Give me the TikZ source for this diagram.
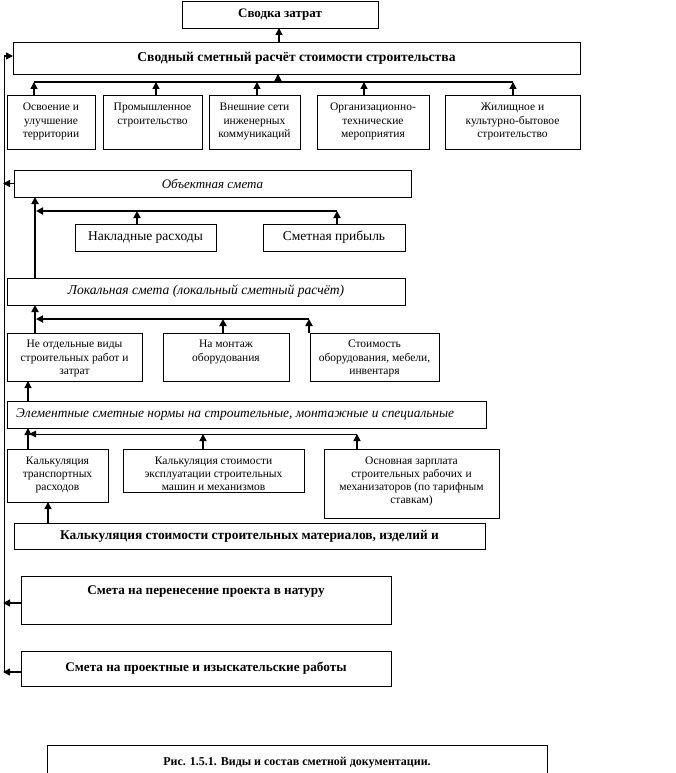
\documentclass[tikz,border=0pt]{standalone}
\usepackage{fontspec}
\setmainfont{Liberation Serif}
\usetikzlibrary{arrows.meta}
\begin{document}
\begin{tikzpicture}[x=1pt,y=-1pt,
  box/.style={draw, line width=0.8pt, inner sep=0pt, outer sep=0pt, anchor=north west, align=center},
  small/.style={align=center, inner sep=0pt, anchor=north, font=\fontsize{11.5}{13.5}\selectfont},
  wire/.style={line width=1.3pt},
  conn/.style={line width=1.4pt, -{Triangle[length=7pt,width=7pt]}},
  connbold/.style={line width=2pt, -{Triangle[length=7pt,width=7pt]}},
  connthin/.style={line width=1pt, -{Triangle[length=7pt,width=6.5pt]}}]
\useasboundingbox (0,0) rectangle (676,773);
\clip (0,0) rectangle (676,773);

% top
\node[box, minimum width=196pt, minimum height=27pt, font=\bfseries\fontsize{13}{15}\selectfont] (sv) at (182,1) {Сводка затрат};
\node[box, minimum width=567pt, minimum height=32pt, font=\bfseries\fontsize{13.6}{16}\selectfont] (ss) at (13,42) {Сводный сметный расчёт стоимости строительства};

% row of five
\node[box, minimum width=88pt, minimum height=54pt] (b1) at (7,95) {};
\node[box, minimum width=99pt, minimum height=54pt] (b2) at (103,95) {};
\node[box, minimum width=91pt, minimum height=54pt] (b3) at (209,95) {};
\node[box, minimum width=112pt, minimum height=54pt] (b4) at (317,95) {};
\node[box, minimum width=135pt, minimum height=54pt] (b5) at (445,95) {};
\node[small] (b1t) at ([yshift=-8pt]b1.north) {Освоение и\\улучшение\\территории};
\node[small] (b2t) at ([yshift=-8pt]b2.north) {Промышленное\\строительство};
\node[small] (b3t) at ([yshift=-8pt]b3.north) {Внешние сети\\инженерных\\коммуникаций};
\node[small] (b4t) at ([yshift=-8pt]b4.north) {Организационно-\\технические\\мероприятия};
\node[small] (b5t) at ([yshift=-8pt]b5.north) {Жилищное и\\культурно-бытовое\\строительство};

% object estimate
\node[box, minimum width=397pt, minimum height=27pt, font=\itshape\fontsize{13}{15}\selectfont] (ob) at (14,170) {Объектная смета};
\node[box, minimum width=141pt, minimum height=27pt, font=\fontsize{13.5}{15}\selectfont] (nak) at (75,224) {Накладные расходы};
\node[box, minimum width=142pt, minimum height=27pt, font=\fontsize{13.5}{15}\selectfont] (smp) at (263,224) {Сметная прибыль};

% local estimate
\node[box, minimum width=398pt, minimum height=27pt, font=\itshape\fontsize{13.6}{15}\selectfont] (lok) at (7,278) {Локальная смета (локальный сметный расчёт)};
\node[box, minimum width=135pt, minimum height=48pt] (ne) at (7,333) {};
\node[box, minimum width=126pt, minimum height=48pt] (mon) at (163,333) {};
\node[box, minimum width=129pt, minimum height=48pt] (sto) at (310,333) {};
\node[small] (net) at ([yshift=-7pt]ne.north) {Не отдельные виды\\строительных работ и\\затрат};
\node[small] (mont) at ([yshift=-7pt]mon.north) {На монтаж\\оборудования};
\node[small] (stot) at ([yshift=-7pt]sto.north) {Стоимость\\оборудования, мебели,\\инвентаря};

% element norms
\node[box, minimum width=479pt, minimum height=27pt] (el) at (7,401) {};
\node[anchor=west, inner sep=0pt, font=\itshape\fontsize{13.4}{15}\selectfont] (elt) at ([xshift=9pt]el.west) {Элементные сметные нормы на строительные, монтажные и специальные};
\node[box, minimum width=101pt, minimum height=53pt] (kt) at (7,449) {};
\node[box, minimum width=181pt, minimum height=43pt] (ke) at (123,449) {};
\node[box, minimum width=175pt, minimum height=69pt] (oz) at (324,449) {};
\node[small, font=\fontsize{11.5}{12.9}\selectfont] (ktt) at ([yshift=-8pt]kt.north) {Калькуляция\\транспортных\\расходов};
\node[small, font=\fontsize{11.5}{12.9}\selectfont] (ket) at ([yshift=-8pt]ke.north) {Калькуляция стоимости\\эксплуатации строительных\\машин и механизмов};
\node[small, font=\fontsize{11.5}{12.9}\selectfont] (ozt) at ([yshift=-8pt]oz.north) {Основная зарплата\\строительных рабочих и\\механизаторов (по тарифным\\ставкам)};
\node[box, minimum width=471pt, minimum height=26pt, font=\bfseries\fontsize{13.4}{15}\selectfont] (km) at (14,523) {Калькуляция стоимости строительных материалов, изделий и};

% bottom estimates
\node[box, minimum width=370pt, minimum height=48pt] (pn) at (21,576) {};
\node[anchor=north, inner sep=0pt, font=\bfseries\fontsize{13.2}{15}\selectfont] (pnt) at ([yshift=-10pt]pn.north) {Смета на перенесение проекта в натуру};
\node[box, minimum width=370pt, minimum height=35pt, font=\bfseries\fontsize{13.2}{15}\selectfont] (pr) at (21,651) {Смета на проектные и изыскательские работы};

% caption
\node[box, minimum width=500pt, minimum height=50pt] (cap) at (47,745) {};
\node[anchor=north, inner sep=0pt, font=\bfseries\fontsize{12}{14}\selectfont] (capt) at ([yshift=-12pt]cap.north) {Рис. 1.5.1. Виды и состав сметной документации.};

% column coordinates
\coordinate (c279) at (279,0);
\coordinate (c278) at (278,0);
\coordinate (c34) at (34,0);
\coordinate (c156) at (156,0);
\coordinate (c257) at (257,0);
\coordinate (c364) at (364,0);
\coordinate (c513) at (513,0);
\coordinate (c35) at (35,0);
\coordinate (c137) at (137,0);
\coordinate (c337) at (337,0);
\coordinate (c223) at (223,0);
\coordinate (c309) at (309,0);
\coordinate (c28) at (28,0);
\coordinate (c203) at (203,0);
\coordinate (c357) at (357,0);
\coordinate (c48) at (48,0);
\coordinate (L) at (4,0);
\coordinate (bus1) at (0,82);
\coordinate (bus2) at (0,211);
\coordinate (bus3) at (0,319);
\coordinate (bus4) at (0,434);
\coordinate (Ltop) at (4,56);

% top connectors
\draw[conn] (ss.north -| c279) -- (sv.south -| c279);
\draw[wire] (bus1 -| c34) -- (bus1 -| c513);
\draw[conn] (bus1 -| c278) -- (ss.south -| c278);
\foreach \c/\b in {c34/b1, c156/b2, c257/b3, c364/b4, c513/b5}
  \draw[conn] (\b.north -| \c) -- (bus1 -| \c);

% left trunk
\draw[line width=1pt] (Ltop) -- ([yshift=-3.5pt]pr.west -| L);
\draw[conn] (Ltop) -- (Ltop -| ss.west);
\draw[conn] (ob.west) -- ([xshift=-1pt]ob.west -| L);
\draw[conn] ([yshift=-3pt]pn.west) -- ([yshift=-3pt,xshift=-1pt]pn.west -| L);
\draw[conn] ([yshift=-3.5pt]pr.west) -- ([yshift=-3.5pt,xshift=-1pt]pr.west -| L);

% object section
\draw[connbold] (lok.north -| c35) -- (ob.south -| c35);
\draw[connbold] (bus2 -| c337) -- ([xshift=1pt]bus2 -| c35);
\draw[connbold] (nak.north -| c137) -- (bus2 -| c137);
\draw[connbold] (smp.north -| c337) -- (bus2 -| c337);

% local section
\draw[connbold] (ne.north -| c35) -- (lok.south -| c35);
\draw[connbold] (bus3 -| c309) -- ([xshift=1pt]bus3 -| c35);
\draw[connbold] (mon.north -| c223) -- (bus3 -| c223);
\draw[connbold] (sto.north -| c309) -- (bus3 -| c309);

% element section
\draw[conn] (el.north -| c28) -- (ne.south -| c28);
\draw[conn] (kt.north -| c28) -- (el.south -| c28);
\draw[connthin] (bus4 -| c357) -- ([xshift=1pt]bus4 -| c28);
\draw[conn] (ke.north -| c203) -- (bus4 -| c203);
\draw[conn] (oz.north -| c357) -- (bus4 -| c357);
\draw[conn] (km.north -| c48) -- (kt.south -| c48);
\end{tikzpicture}
\end{document}
